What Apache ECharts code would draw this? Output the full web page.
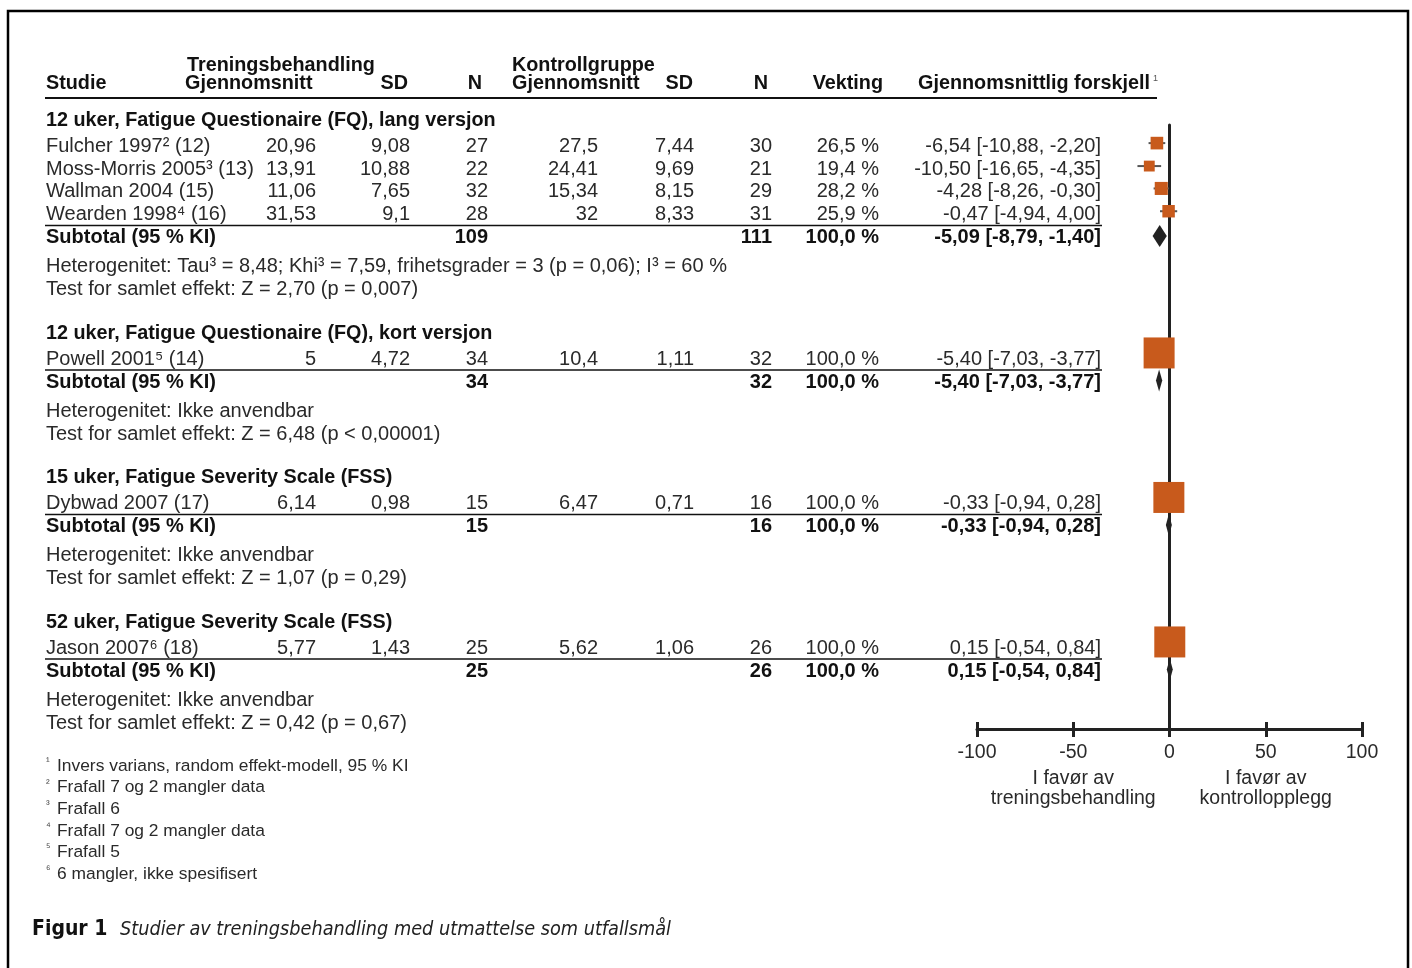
<!DOCTYPE html>
<html><head><meta charset="utf-8">
<script src="https://cdn.jsdelivr.net/npm/echarts@6/dist/echarts.min.js"></script>
<style>html,body{margin:0;padding:0;background:#fff}#c{width:1412px;height:968px}</style>
</head><body><div id="c"></div><script>
// ---- data ----
const sectionTitles = [
  '12 uker, Fatigue Questionaire (FQ), lang versjon',
  '12 uker, Fatigue Questionaire (FQ), kort versjon',
  '15 uker, Fatigue Severity Scale (FSS)',
  '52 uker, Fatigue Severity Scale (FSS)'
];
const studyNames = ['Fulcher 1997² (12)', 'Moss-Morris 2005³ (13)', 'Wallman 2004 (15)', 'Wearden 1998⁴ (16)',
  'Powell 2001⁵ (14)', 'Dybwad 2007 (17)', 'Jason 2007⁶ (18)'];
const studyGroup = [0, 0, 0, 0, 1, 2, 3];
const tMean = [20.96, 13.91, 11.06, 31.53, 5, 6.14, 5.77];
const tSD   = [9.08, 10.88, 7.65, 9.1, 4.72, 0.98, 1.43];
const tN    = [27, 22, 32, 28, 34, 15, 25];
const cMean = [27.5, 24.41, 15.34, 32, 10.4, 6.47, 5.62];
const cSD   = [7.44, 9.69, 8.15, 8.33, 1.11, 0.71, 1.06];
const cN    = [30, 21, 29, 31, 32, 16, 26];
const weight = [26.5, 19.4, 28.2, 25.9, 100, 100, 100];
const md    = [-6.54, -10.50, -4.28, -0.47, -5.40, -0.33, 0.15];
const ciLo  = [-10.88, -16.65, -8.26, -4.94, -7.03, -0.94, -0.54];
const ciHi  = [-2.20, -4.35, -0.30, 4.00, -3.77, 0.28, 0.84];

const subMd = [-5.09, -5.40, -0.33, 0.15];
const subLo = [-8.79, -7.03, -0.94, -0.54];
const subHi = [-1.40, -3.77, 0.28, 0.84];
const subTN = [109, 34, 15, 25];
const subCN = [111, 32, 16, 26];
const hetText = [
  'Heterogenitet: Tau³ = 8,48; Khi³ = 7,59, frihetsgrader = 3 (p = 0,06); I³ = 60 %',
  'Heterogenitet: Ikke anvendbar',
  'Heterogenitet: Ikke anvendbar',
  'Heterogenitet: Ikke anvendbar'
];
const testText = [
  'Test for samlet effekt: Z = 2,70 (p = 0,007)',
  'Test for samlet effekt: Z = 6,48 (p < 0,00001)',
  'Test for samlet effekt: Z = 1,07 (p = 0,29)',
  'Test for samlet effekt: Z = 0,42 (p = 0,67)'
];
const axisTicks = [-100, -50, 0, 50, 100];
const sideLabels = [
  { at: -50, lines: ['I favør av', 'treningsbehandling'] },
  { at: 50, lines: ['I favør av', 'kontrollopplegg'] }
];
const footnotes = [
  ['¹', 'Invers varians, random effekt-modell, 95 % KI'],
  ['²', 'Frafall 7 og 2 mangler data'],
  ['³', 'Frafall 6'],
  ['⁴', 'Frafall 7 og 2 mangler data'],
  ['⁵', 'Frafall 5'],
  ['⁶', '6 mangler, ikke spesifisert']
];

// ---- formatting ----
const fmtNum = v => String(v).replace('.', ',');
const fmt2 = v => v.toFixed(2).replace('.', ',');
const fmtCI = (m, l, h) => fmt2(m) + ' [' + fmt2(l) + ', ' + fmt2(h) + ']';
const fmtW = w => w.toFixed(1).replace('.', ',') + ' %';

// ---- row layout (pixel rows of the table) ----
const rowY = { section: [], study: [], subtotal: [], het: [], test: [] };
(function () {
  let y = 119;
  for (let g = 0; g < sectionTitles.length; g++) {
    rowY.section[g] = y;
    y += 26;
    studyGroup.forEach((sg, i) => { if (sg === g) { rowY.study[i] = y; y += 22.7; } });
    y += 0.3;
    rowY.subtotal[g] = y;
    y += 29; rowY.het[g] = y;
    y += 23; rowY.test[g] = y;
    y += 43.5;
  }
})();

const FONT = "'Liberation Sans', Arial, sans-serif";
const TXT = '#2a2a2a';
const ORANGE = '#c85a1c';
const DARK = '#222';
const BODY = 20;
const TY = 1.5; // baseline nudge for table text
const col = { name: 46, tMean: 316, tSD: 410, tN: 488, cMean: 598, cSD: 694, cN: 772, w: 879, ci: 1101 };

const g = [];
function text(x, y, s, o) {
  o = o || {};
  g.push({
    type: 'text', x: x, y: y, z: 10,
    style: {
      text: s,
      font: (o.italic ? 'italic ' : '') + (o.bold ? 'bold ' : '') + (o.size || BODY) + 'px ' + (o.family || FONT),
      fill: o.color || TXT,
      align: o.align || 'left',
      verticalAlign: 'middle'
    }
  });
}
function hline(x1, x2, y, w) {
  g.push({ type: 'line', z: 10, shape: { x1: x1, y1: y, x2: x2, y2: y }, style: { stroke: '#111', lineWidth: w } });
}

// frame
g.push({ type: 'rect', z: 1, shape: { x: 8, y: 11, width: 1400, height: 990 }, style: { fill: 'none', stroke: '#000', lineWidth: 2.5 } });

// header
const HB = { bold: true, size: 19.8, color: '#111' };
const HR = Object.assign({ align: 'right' }, HB);
text(46, 84, 'Studie', HB);
text(187, 66, 'Treningsbehandling', HB);
text(185, 84, 'Gjennomsnitt', HB);
text(408, 84, 'SD', HR);
text(482, 84, 'N', HR);
text(512, 66, 'Kontrollgruppe', HB);
text(512, 84, 'Gjennomsnitt', HB);
text(693, 84, 'SD', HR);
text(768, 84, 'N', HR);
text(883, 84, 'Vekting', HR);
text(918, 84, 'Gjennomsnittlig forskjell', HB);
text(1153, 79, '1', { size: 9, color: '#555' });
hline(45, 1157, 98, 2);

// body rows
for (let k = 0; k < sectionTitles.length; k++) {
  text(col.name, rowY.section[k] + TY, sectionTitles[k], { bold: true, size: 19.8, color: '#111' });
  studyNames.forEach((n, i) => {
    if (studyGroup[i] !== k) return;
    const y = rowY.study[i] + TY;
    text(col.name, y, n);
    text(col.tMean, y, fmtNum(tMean[i]), { align: 'right' });
    text(col.tSD, y, fmtNum(tSD[i]), { align: 'right' });
    text(col.tN, y, String(tN[i]), { align: 'right' });
    text(col.cMean, y, fmtNum(cMean[i]), { align: 'right' });
    text(col.cSD, y, fmtNum(cSD[i]), { align: 'right' });
    text(col.cN, y, String(cN[i]), { align: 'right' });
    text(col.w, y, fmtW(weight[i]), { align: 'right' });
    text(col.ci, y, fmtCI(md[i], ciLo[i], ciHi[i]), { align: 'right' });
  });
  const ys = rowY.subtotal[k];
  hline(45, 1102, ys - 10.5, 1.5);
  const B = { bold: true, size: 20, color: '#111' };
  const BR = Object.assign({ align: 'right' }, B);
  text(col.name, ys + TY, 'Subtotal (95 % KI)', B);
  text(col.tN, ys + TY, String(subTN[k]), BR);
  text(col.cN, ys + TY, String(subCN[k]), BR);
  text(col.w, ys + TY, fmtW(100), BR);
  text(col.ci, ys + TY, fmtCI(subMd[k], subLo[k], subHi[k]), BR);
  text(col.name, rowY.het[k] + TY, hetText[k]);
  text(col.name, rowY.test[k] + TY, testText[k]);
}

// footnotes
footnotes.forEach((f, i) => {
  const y = 766 + i * 21.6;
  text(46, y - 4, f[0], { size: 11, color: '#444' });
  text(57, y, f[1], { size: 17.4 });
});

// caption
const CAP = "'DejaVu Sans Condensed', 'DejaVu Sans', sans-serif";
text(32, 930, 'Figur 1', { bold: true, size: 21, color: '#111', family: CAP });
text(120, 930, 'Studier av treningsbehandling med utmattelse som utfallsmål', { italic: true, size: 19.7, color: '#222', family: CAP });

// ---- chart ----
const chart = echarts.init(document.getElementById('c'), null, { renderer: 'canvas' });
const AXIS_Y = 729;
const option = {
  animation: false,
  backgroundColor: '#fff',
  grid: { left: 977, right: 1412 - 1362, top: 125, bottom: 968 - AXIS_Y, containLabel: false },
  xAxis: [
    {
      type: 'value', min: -100, max: 100, interval: 50, position: 'bottom',
      axisLine: { onZero: false, lineStyle: { color: DARK, width: 3 } },
      axisTick: { show: true, length: 8, lineStyle: { color: DARK, width: 3 } },
      axisLabel: { show: true, color: TXT, fontSize: 19.5, fontFamily: FONT, margin: 14 },
      splitLine: { show: false }
    },
    {
      type: 'value', min: -100, max: 100, interval: 50, position: 'bottom', offset: 0,
      axisLine: { show: false },
      axisTick: { show: true, inside: true, length: 7, lineStyle: { color: DARK, width: 3 } },
      axisLabel: { show: false }, splitLine: { show: false }
    }
  ],
  yAxis: {
    type: 'value', min: 125, max: AXIS_Y, inverse: true,
    axisLine: { show: true, onZero: true, lineStyle: { color: DARK, width: 3 } },
    axisTick: { show: false }, axisLabel: { show: false }, splitLine: { show: false }
  },
  graphic: g,
  series: [
    {
      type: 'custom', name: 'studier', z: 5,
      encode: { x: [0, 1, 2], y: 3 },
      data: studyNames.map((n, i) => [md[i], ciLo[i], ciHi[i], rowY.study[i], weight[i]]),
      renderItem: function (params, api) {
        const yv = api.value(3);
        const size = 6 + 0.25 * api.value(4);
        const c = api.coord([api.value(0), yv]);
        const l = api.coord([api.value(1), yv]);
        const h = api.coord([api.value(2), yv]);
        const cy = c[1] - size * 0.15;
        return {
          type: 'group',
          children: [
            { type: 'line', shape: { x1: l[0], y1: cy, x2: h[0], y2: cy }, style: { stroke: '#555', lineWidth: 2 } },
            { type: 'rect', shape: { x: c[0] - size / 2, y: cy - size / 2, width: size, height: size }, style: { fill: ORANGE } }
          ]
        };
      }
    },
    {
      type: 'custom', name: 'subtotal', z: 5,
      encode: { x: [0, 1, 2], y: 3 },
      data: subMd.map((m, k) => [m, subLo[k], subHi[k], rowY.subtotal[k]]),
      renderItem: function (params, api) {
        const yv = api.value(3);
        const c = api.coord([api.value(0), yv]);
        let l = api.coord([api.value(1), yv])[0];
        let h = api.coord([api.value(2), yv])[0];
        if (c[0] - l < 3) l = c[0] - 3;
        if (h - c[0] < 3) h = c[0] + 3;
        return {
          type: 'polygon',
          shape: { points: [[l, c[1]], [c[0], c[1] - 11], [h, c[1]], [c[0], c[1] + 11]] },
          style: { fill: DARK }
        };
      }
    }
  ]
};
chart.setOption(option);

// side captions under the axis, centred on their axis values
const extra = [];
sideLabels.forEach(s => {
  const x = chart.convertToPixel({ xAxisIndex: 0 }, s.at);
  s.lines.forEach((ln, j) => {
    extra.push({
      type: 'text', x: x, y: 779 + j * 19.5, z: 10,
      style: { text: ln, font: '19.5px ' + FONT, fill: TXT, align: 'center', verticalAlign: 'middle' }
    });
  });
});
chart.setOption({ graphic: g.concat(extra) });
</script></body></html>
